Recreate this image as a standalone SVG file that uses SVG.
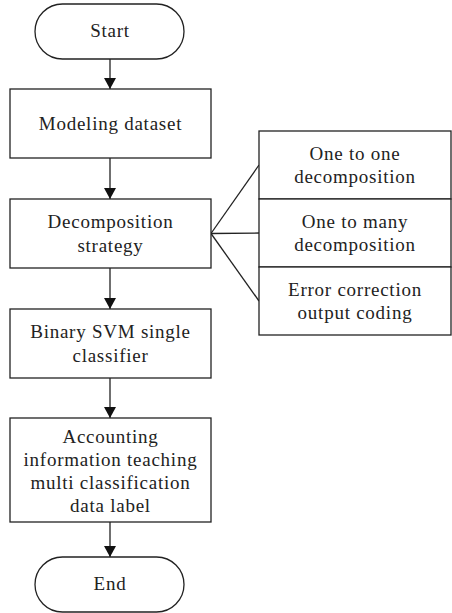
<svg xmlns="http://www.w3.org/2000/svg" width="452" height="613" viewBox="0 0 452 613">
<style>
.box{fill:#fff;stroke:#222;stroke-width:1.3}
.t{font-family:"Liberation Serif","Times New Roman",serif;font-size:19px;letter-spacing:0.75px;fill:#222;text-anchor:middle}
.c{stroke:#222;stroke-width:1.3;fill:none}
</style>
<defs>
<marker id="ah" markerUnits="userSpaceOnUse" markerWidth="12" markerHeight="12" refX="11" refY="6" orient="auto">
<path d="M0,0 L11,6 L0,12 Z" fill="#111"/>
</marker>
</defs>
<rect width="452" height="613" fill="#fff"/>
<g id="connectors">
<line class="c" x1="110" y1="59" x2="110" y2="89" marker-end="url(#ah)"/>
<line class="c" x1="110" y1="158" x2="110" y2="199" marker-end="url(#ah)"/>
<line class="c" x1="110" y1="268" x2="110" y2="309" marker-end="url(#ah)"/>
<line class="c" x1="110" y1="378" x2="110" y2="418" marker-end="url(#ah)"/>
<line class="c" x1="110" y1="522" x2="110" y2="557" marker-end="url(#ah)"/>
<line class="c" x1="211" y1="233.5" x2="259" y2="165"/>
<line class="c" x1="211" y1="233.5" x2="259" y2="233"/>
<line class="c" x1="211" y1="233.5" x2="259" y2="301"/>
</g>
<g id="start">
<rect class="box" x="35" y="4" width="149" height="55" rx="27.5"/>
<text class="t" x="110" y="37">Start</text>
</g>
<g id="modeling">
<rect class="box" x="10" y="89" width="201" height="69"/>
<text class="t" x="110.5" y="130">Modeling dataset</text>
</g>
<g id="decomposition">
<rect class="box" x="10" y="199" width="201" height="69"/>
<text class="t" x="110.5" y="228">Decomposition</text>
<text class="t" x="110.5" y="252">strategy</text>
</g>
<g id="binary">
<rect class="box" x="10" y="309" width="201" height="69"/>
<text class="t" x="110.5" y="338">Binary SVM single</text>
<text class="t" x="110.5" y="362">classifier</text>
</g>
<g id="accounting">
<rect class="box" x="10" y="418" width="201" height="104"/>
<text class="t" x="110.5" y="443">Accounting</text>
<text class="t" x="110.5" y="466">information teaching</text>
<text class="t" x="110.5" y="489">multi classification</text>
<text class="t" x="110.5" y="512">data label</text>
</g>
<g id="end">
<rect class="box" x="35" y="557" width="149" height="55" rx="27.5"/>
<text class="t" x="110" y="590">End</text>
</g>
<g id="one-to-one">
<rect class="box" x="259" y="131" width="192" height="68"/>
<text class="t" x="355" y="160">One to one</text>
<text class="t" x="355" y="183">decomposition</text>
</g>
<g id="one-to-many">
<rect class="box" x="259" y="199" width="192" height="68"/>
<text class="t" x="355" y="228">One to many</text>
<text class="t" x="355" y="251">decomposition</text>
</g>
<g id="ecoc">
<rect class="box" x="259" y="267" width="192" height="68"/>
<text class="t" x="355" y="296">Error correction</text>
<text class="t" x="355" y="319">output coding</text>
</g>
</svg>
